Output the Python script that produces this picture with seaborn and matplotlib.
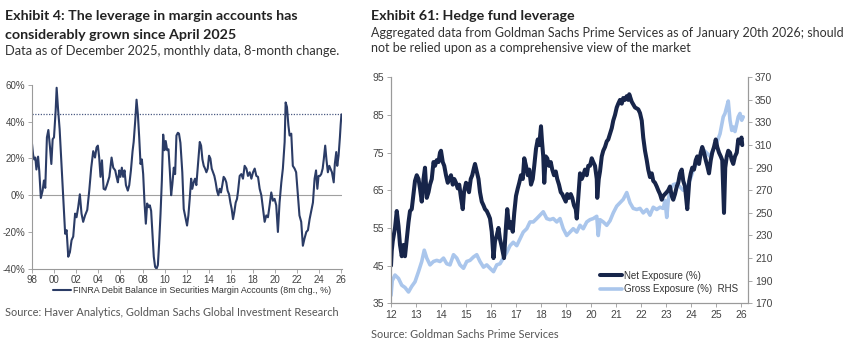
import matplotlib
matplotlib.use("Agg")
import matplotlib.pyplot as plt
import seaborn as sns
import pandas as pd

# ---------------- Data: Exhibit 4 (FINRA margin debt, 8m change, %) ----------------
margin_t = [
    1998.00, 1998.10, 1998.20, 1998.30, 1998.40, 1998.55, 1998.66, 1998.80, 1998.96,
    1999.08, 1999.20, 1999.35, 1999.48, 1999.63, 1999.75, 1999.87, 1999.99,
    2000.14, 2000.23, 2000.35, 2000.50, 2000.62, 2000.77, 2000.90,
    2001.00, 2001.13, 2001.28, 2001.43, 2001.58, 2001.73, 2001.90,
    2002.03, 2002.18, 2002.33, 2002.48, 2002.63, 2002.80,
    2003.00, 2003.18, 2003.36, 2003.54, 2003.70, 2003.84, 2003.96,
    2004.08, 2004.20, 2004.33, 2004.48, 2004.63, 2004.80,
    2005.00, 2005.20, 2005.35, 2005.53, 2005.65, 2005.77, 2005.90,
    2006.00, 2006.13, 2006.25, 2006.37, 2006.50, 2006.67, 2006.80, 2006.95,
    2007.10, 2007.20, 2007.34, 2007.46, 2007.58, 2007.70, 2007.82, 2007.94,
    2008.06, 2008.18, 2008.30, 2008.42, 2008.54, 2008.66, 2008.78, 2008.90,
    2009.02, 2009.14, 2009.27, 2009.39, 2009.50, 2009.63, 2009.75, 2009.87, 2009.99,
    2010.10, 2010.23, 2010.35, 2010.47, 2010.59, 2010.70, 2010.83, 2010.95,
    2011.07, 2011.20, 2011.30, 2011.43, 2011.60, 2011.73, 2011.85,
    2012.03, 2012.15, 2012.27, 2012.40, 2012.50, 2012.63, 2012.75, 2012.87,
    2013.03, 2013.18, 2013.30, 2013.42, 2013.54, 2013.66, 2013.78, 2013.90,
    2014.02, 2014.14, 2014.26, 2014.38, 2014.50, 2014.62, 2014.74, 2014.86, 2014.98,
    2015.10, 2015.22, 2015.34, 2015.46, 2015.58, 2015.70, 2015.83, 2015.95,
    2016.07, 2016.19, 2016.31, 2016.43, 2016.55, 2016.64, 2016.79, 2016.94,
    2017.09, 2017.24, 2017.40, 2017.54, 2017.70, 2017.85,
    2018.00, 2018.15, 2018.30, 2018.45, 2018.60, 2018.75, 2018.90,
    2019.05, 2019.20, 2019.35, 2019.50, 2019.65, 2019.80, 2019.95,
    2020.10, 2020.25, 2020.40, 2020.56, 2020.70, 2020.86, 2020.95,
    2021.07, 2021.20, 2021.31, 2021.46, 2021.60, 2021.76, 2021.90,
    2022.06, 2022.20, 2022.36, 2022.51, 2022.66, 2022.82, 2022.97,
    2023.12, 2023.27, 2023.42, 2023.57, 2023.70, 2023.82, 2023.93,
    2024.05, 2024.17, 2024.30, 2024.40, 2024.53, 2024.65, 2024.77, 2024.90,
    2025.00, 2025.14, 2025.30, 2025.40, 2025.53, 2025.62, 2025.74, 2025.86, 2025.93, 2026.00,
]
margin_chg = [
    28, 22, 19.5, 20.5, 14, 21, 13, -1.5, 2.5,
    8, 4, 31.5, 35.5, 26, 17, 30.5, 31.5,
    46, 58.5, 47.5, 36, 22.5, 4.5, -8.5,
    -21, -19, -33.5, -31, -24.5, -22.5, -10,
    -12, -6.5, 0.5, -10, -14.5, -11,
    -8, 2.5, 15, 24, 20.5, 26, 27,
    20.5, 10, 19, 3.5, 3, 6,
    10, 20.5, 15, 13.5, 10, 7, 13.5,
    10, 15, 10, 13.5, 5.5, 2.5, 5.5, 13.5,
    24, 29, 40.5, 52, 44, 31.5, 17, 19.5,
    11.5, -4, -15.5, -4.5, -6.5, -5.5, -8.5, -21,
    -33.5, -39, -40, -38, -26.5, -10, 8, 33, 24.5,
    29.5, 24.5, 25, 13.5, 0, 6, 15, 11.5,
    32.5, 34, 33.5, 28.5, 12.5, -7.5, -11,
    -16.5, -11, -2, 9, 3.5, 7, 9, 5.5,
    18, 29, 27, 19.5, 16, 14.5, 12.5, 14.5,
    21.5, 20, 14.5, 12.5, 10.5, 7, 2.5, 0, 3.5,
    1.5, 5.5, 10, 9, 7, 2.5, 0.5, -4,
    -7.5, -13, -9, -4, -2, 2, 10.5, 11.5,
    9, 16, 14.5, 10.5, 12.5, 9,
    12.5, 14.5, 10.5, 10, 3.5, 0, -7.5,
    -14.5, -11, -12, -5.5, 1.5, -3, -2,
    -5.5, -20, -4, 7, 14.5, 29, 50.5,
    48, 38, 32.5, 33.5, 16, 14.5, 12.5,
    0, -11, -14.5, -27.5, -23.5, -20, -19,
    -13, -8.5, -4, 9, 13.5, 3.5, 10.5,
    10.5, 11.5, 14.5, 19.5, 27, 19, 12.5, 16,
    14.5, 12.5, 7, 17, 23.5, 16, 21.5, 31.5, 38.5, 44,
]
margin_ref_level = 44
margin_years = list(range(1998, 2027, 2))
margin_year_labels = [f"{y % 100:02d}" for y in margin_years]
margin_pct_ticks = [-40, -20, 0, 20, 40, 60]

# ---------------- Data: Exhibit 61 (Hedge fund leverage) ----------------
net_t = [
    2012.00, 2012.03, 2012.07, 2012.16, 2012.23, 2012.30, 2012.36, 2012.43, 2012.50, 2012.56,
    2012.63, 2012.70, 2012.76, 2012.83, 2012.90, 2012.96, 2013.03, 2013.10, 2013.16, 2013.23,
    2013.30, 2013.36, 2013.43, 2013.50, 2013.56, 2013.63, 2013.70, 2013.76, 2013.83, 2013.90,
    2013.96, 2014.00, 2014.07, 2014.13, 2014.20, 2014.27, 2014.33, 2014.40, 2014.47, 2014.53,
    2014.60, 2014.67, 2014.73, 2014.80, 2014.87, 2014.92, 2015.00, 2015.05, 2015.12, 2015.19,
    2015.25, 2015.32, 2015.36, 2015.43, 2015.50, 2015.56, 2015.63, 2015.70, 2015.76, 2015.83,
    2015.90, 2015.96, 2016.03, 2016.10, 2016.16, 2016.23, 2016.30, 2016.36, 2016.43, 2016.52,
    2016.60, 2016.65, 2016.73, 2016.80, 2016.87, 2016.93, 2017.00, 2017.07, 2017.13, 2017.20,
    2017.27, 2017.33, 2017.40, 2017.47, 2017.53, 2017.60, 2017.67, 2017.73, 2017.80, 2017.87,
    2017.93, 2018.00, 2018.04, 2018.09, 2018.13, 2018.19, 2018.25, 2018.32, 2018.39, 2018.45,
    2018.52, 2018.59, 2018.65, 2018.72, 2018.79, 2018.85, 2018.92, 2018.99, 2019.05, 2019.12,
    2019.19, 2019.25, 2019.32, 2019.39, 2019.43, 2019.49, 2019.56, 2019.63, 2019.69, 2019.76,
    2019.83, 2019.89, 2019.96, 2020.03, 2020.09, 2020.16, 2020.23, 2020.25, 2020.31, 2020.36,
    2020.43, 2020.49, 2020.56, 2020.63, 2020.69, 2020.76, 2020.83, 2020.89, 2020.96, 2021.03,
    2021.09, 2021.16, 2021.23, 2021.29, 2021.36, 2021.43, 2021.49, 2021.53, 2021.63, 2021.76,
    2021.89, 2021.96, 2022.03, 2022.09, 2022.16, 2022.23, 2022.29, 2022.36, 2022.43, 2022.49,
    2022.56, 2022.63, 2022.69, 2022.76, 2022.83, 2022.89, 2022.96, 2023.03, 2023.09, 2023.16,
    2023.23, 2023.29, 2023.36, 2023.43, 2023.49, 2023.56, 2023.63, 2023.69, 2023.76, 2023.85,
    2023.93, 2023.99, 2024.05, 2024.12, 2024.19, 2024.25, 2024.32, 2024.39, 2024.45, 2024.52,
    2024.59, 2024.65, 2024.72, 2024.79, 2024.85, 2024.92, 2024.99, 2025.05, 2025.12, 2025.19,
    2025.25, 2025.32, 2025.37, 2025.43, 2025.49, 2025.56, 2025.63, 2025.69, 2025.76, 2025.83,
    2025.89, 2025.96, 2026.02, 2026.05,
]
net_exposure = [
    45, 49, 51.5, 55, 59.5, 55.5, 50.5, 47.5, 50.5, 47.5,
    52, 56.5, 59.5, 60, 64, 67.5, 69, 68, 65.5, 62,
    68, 71, 63, 64.5, 66.5, 68, 72.5, 71.5, 73, 72.5,
    75, 75.5, 72.5, 71.5, 69, 67, 68, 69, 66.5, 68,
    67, 65.5, 66.5, 63, 60, 64.5, 67, 66.5, 64.5, 68,
    69, 71, 72, 70, 68, 64.5, 62, 61, 60, 59.5,
    58.5, 57.5, 54, 47, 51.5, 53, 55, 52, 50, 47,
    55.5, 60, 55, 56.5, 54, 59, 63.5, 65.5, 67, 69,
    68, 73.5, 71.5, 69, 70.5, 66.5, 68, 71.5, 76, 78.5,
    77, 82, 78, 74, 67, 74, 73.5, 71.5, 72.5, 70.5,
    69, 70, 68, 66.5, 64.5, 64, 63, 62, 64, 63,
    64, 63, 61, 60, 57.5, 63, 69.5, 68, 69, 70.5,
    69, 71.5, 71.5, 73.5, 72.5, 71.5, 68, 63, 68, 70,
    74, 75.5, 76.5, 78, 78.5, 80, 81.5, 83.5, 85, 87,
    88, 89, 88, 89.5, 89, 90, 89, 90.5, 88.5, 87,
    86.5, 85.5, 83.5, 79, 75.5, 73, 70.5, 68.5, 69.5, 67.5,
    67, 66, 65, 64, 62.5, 63.5, 64, 64.5, 65, 66,
    63.5, 62.5, 64, 66, 67, 69.5, 70.5, 67.5, 66, 60,
    67.5, 69.5, 71, 70.5, 73, 74, 72, 75, 76.5, 75,
    73, 71.5, 69.5, 73, 75, 76.5, 78.5, 76.5, 75, 74,
    73, 59, 71, 74, 75.5, 75, 73, 72, 74, 75,
    78.5, 77.5, 79, 77,
]
gross_t = [
    2012.00, 2012.05, 2012.16, 2012.30, 2012.43, 2012.56, 2012.70, 2012.83, 2012.96,
    2013.10, 2013.23, 2013.33, 2013.43, 2013.56, 2013.70, 2013.83, 2013.96,
    2014.10, 2014.23, 2014.36, 2014.50, 2014.63, 2014.76, 2014.90,
    2015.03, 2015.16, 2015.30, 2015.43, 2015.56, 2015.70, 2015.83, 2015.96,
    2016.10, 2016.23, 2016.36, 2016.49, 2016.63, 2016.76, 2016.89,
    2017.03, 2017.16, 2017.29, 2017.43, 2017.56, 2017.69, 2017.83, 2017.96,
    2018.09, 2018.23, 2018.36, 2018.49, 2018.63, 2018.76, 2018.89,
    2019.03, 2019.16, 2019.29, 2019.43, 2019.56, 2019.69, 2019.83, 2019.96,
    2020.09, 2020.23, 2020.29, 2020.36, 2020.49, 2020.63, 2020.76, 2020.89,
    2021.03, 2021.16, 2021.29, 2021.43, 2021.56, 2021.69, 2021.83, 2021.96,
    2022.09, 2022.23, 2022.36, 2022.49, 2022.63, 2022.76, 2022.89, 2022.96,
    2023.03, 2023.09, 2023.16, 2023.29, 2023.43, 2023.56, 2023.69, 2023.83, 2023.96,
    2024.09, 2024.23, 2024.36, 2024.49, 2024.63, 2024.76, 2024.89,
    2025.03, 2025.16, 2025.29, 2025.36, 2025.43, 2025.49, 2025.56, 2025.63, 2025.69,
    2025.76, 2025.83, 2025.89, 2025.96, 2026.03, 2026.09,
]
gross_exposure = [
    177, 190, 195, 192, 186, 184, 180, 185, 189,
    198, 207, 217, 210, 204, 207, 208, 207,
    210, 205, 204, 213, 210, 204, 201,
    207, 208, 211, 213, 207, 202, 204, 201,
    198, 204, 205, 210, 215, 221, 224,
    221, 227, 233, 236, 242, 242, 245, 248,
    251, 245, 244, 245, 242, 245, 236,
    230, 233, 236, 233, 239, 236, 242, 244,
    245, 247, 230, 244, 242, 239, 243, 250,
    256, 259, 262, 268, 259, 254, 253, 254,
    250, 253, 248, 255, 253, 255, 254, 261,
    246, 261, 270, 275, 276, 273, 270, 273, 279,
    288, 294, 300, 306, 303, 300, 306,
    312, 320, 335, 338, 344, 349, 332, 323, 326,
    322, 329, 335, 338, 332, 335,
]
hf_years = list(range(2012, 2027))
hf_year_labels = [f"{y % 100:02d}" for y in hf_years]
net_ticks = list(range(35, 96, 10))
gross_ticks = list(range(170, 371, 20))

# ---------------- Styling ----------------
sns.set_theme(style="white")
plt.rcParams['font.family'] = ['Liberation Sans', 'DejaVu Sans']
TITLE_FONT = ['Lato', 'DejaVu Sans']
TICK_COLOR = '#444444'
SPINE_COLOR = '#9a9a9a'

W, H = 847, 348
fig = plt.figure(figsize=(W / 100, H / 100), dpi=100)


def fx(px):
    return px / W


def fy(py):
    return 1 - py / H


# ---- Left panel ----
ax1 = fig.add_axes([fx(32), fy(268.7), fx(310), (268.7 - 85) / H])
df_m = pd.DataFrame({"t": margin_t, "chg": margin_chg})
sns.lineplot(data=df_m, x="t", y="chg", ax=ax1, color="#2b3c66", lw=1.5,
             label="FINRA Debit Balance in Securities Margin Accounts (8m chg., %)")
ax1.axhline(0, color="#a0a0a0", lw=0.8, zorder=0)
ax1.axhline(margin_ref_level, color="#4b5a82", lw=0.9, ls=(0, (1, 1.2)), zorder=0)
ax1.set_xlim(1998, 2026.05)
ax1.set_ylim(-40, 60)
ax1.set_xticks(margin_years)
ax1.set_xticklabels(margin_year_labels)
ax1.set_yticks(margin_pct_ticks)
ax1.set_yticklabels([f"{v}%" for v in margin_pct_ticks])
ax1.set_xlabel("")
ax1.set_ylabel("")
for s in ["top", "right"]:
    ax1.spines[s].set_visible(False)
for s in ["left", "bottom"]:
    ax1.spines[s].set_color(SPINE_COLOR)
    ax1.spines[s].set_linewidth(0.8)
ax1.tick_params(axis="both", labelsize=7, colors=TICK_COLOR, length=3, width=0.6,
                pad=2, direction="out", left=True, bottom=True)
ax1.tick_params(axis="x", pad=1.5)
ax1.tick_params(axis="both", color=SPINE_COLOR)
leg1 = ax1.legend(loc="center left", bbox_to_anchor=(0.068, -0.118), frameon=False,
                  fontsize=6.4, handlelength=2.0, handletextpad=0.2, borderaxespad=0,
                  borderpad=0)
for t in leg1.get_texts():
    t.set_color('#333333')

# ---- Right panel ----
ax2 = fig.add_axes([fx(391), fy(303.3), fx(357), 226 / H])
ax3 = ax2.twinx()
df_n = pd.DataFrame({"t": net_t, "net": net_exposure})
df_g = pd.DataFrame({"t": gross_t, "gross": gross_exposure})
sns.lineplot(data=df_g, x="t", y="gross", ax=ax3, color="#aac6ec", lw=2.6,
             label="Gross Exposure (%)  RHS", legend=False)
sns.lineplot(data=df_n, x="t", y="net", ax=ax2, color="#17254a", lw=2.9,
             label="Net Exposure (%)", legend=False)
ax2.set_zorder(ax3.get_zorder() + 1)
ax2.patch.set_visible(False)
ax2.set_xlim(2012, 2026.28)
ax2.set_ylim(35, 95)
ax3.set_ylim(170, 370)
ax2.set_xticks(hf_years)
ax2.set_xticklabels(hf_year_labels)
ax2.set_yticks(net_ticks)
ax3.set_yticks(gross_ticks)
for a in (ax2, ax3):
    a.set_xlabel("")
    a.set_ylabel("")
    a.spines["top"].set_visible(False)
    for s in ["left", "bottom", "right"]:
        a.spines[s].set_color(SPINE_COLOR)
        a.spines[s].set_linewidth(0.8)
    a.tick_params(axis="both", labelsize=7.5, colors=TICK_COLOR, length=3, width=0.6,
                  pad=2, direction="out")
    a.tick_params(axis="both", color=SPINE_COLOR)
ax2.tick_params(axis="y", left=True, right=False)
ax2.tick_params(axis="x", bottom=True)
ax3.tick_params(axis="y", right=True, left=False)

h2, l2 = ax2.get_legend_handles_labels()
h3, l3 = ax3.get_legend_handles_labels()
leg2 = ax2.legend(h2 + h3, l2 + l3, loc="lower left", bbox_to_anchor=(0.585, 0.04),
                  frameon=False, fontsize=7, handlelength=2.3, handletextpad=0.15,
                  labelspacing=0.35, borderaxespad=0, borderpad=0)
for t in leg2.get_texts():
    t.set_color('#333333')

# ---- Titles and sources ----
fig.text(fx(5), fy(16), "Exhibit 4: The leverage in margin accounts has", family=TITLE_FONT,
         fontweight="bold", fontsize=10.3, color="#222222", va="center", ha="left")
fig.text(fx(5), fy(35), "considerably grown since April 2025", family=TITLE_FONT,
         fontweight="bold", fontsize=10.3, color="#222222", va="center", ha="left")
fig.text(fx(5), fy(51), "Data as of December 2025, monthly data, 8-month change.",
         family=TITLE_FONT, fontsize=9.3, color="#333333", va="center", ha="left")
fig.text(fx(5), fy(312.5), "Source: Haver Analytics, Goldman Sachs Global Investment Research",
         family=TITLE_FONT, fontsize=7.9, color="#555555", va="center", ha="left")

fig.text(fx(371), fy(16), "Exhibit 61: Hedge fund leverage", family=TITLE_FONT,
         fontweight="bold", fontsize=10.3, color="#222222", va="center", ha="left")
fig.text(fx(371), fy(33), "Aggregated data from Goldman Sachs Prime Services as of January 20th 2026; should",
         family=TITLE_FONT, fontsize=9, color="#333333", va="center", ha="left")
fig.text(fx(371), fy(48), "not be relied upon as a comprehensive view of the market",
         family=TITLE_FONT, fontsize=9, color="#333333", va="center", ha="left")
fig.text(fx(371), fy(335), "Source: Goldman Sachs Prime Services",
         family=TITLE_FONT, fontsize=7.9, color="#555555", va="center", ha="left")

fig.savefig("out.png", dpi=100)
